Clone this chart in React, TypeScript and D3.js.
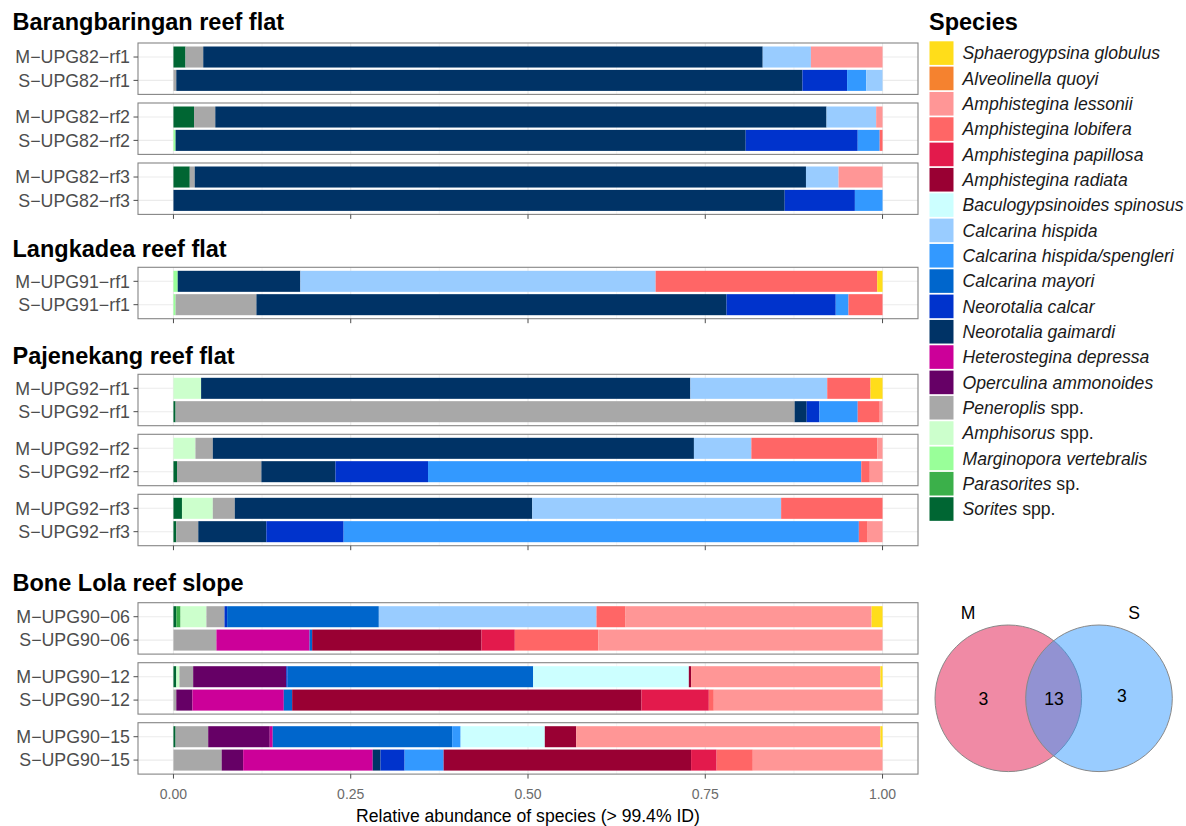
import * as d3 from "d3";

// species, in legend order (first one sits at the right end of each stack)
const speciesKeys = [
  "sph", "alv", "ales", "alob", "apap", "arad", "bac", "chis", "chsp", "cmay",
  "ncal", "ngai", "hdep", "oamm", "pen", "amph", "mver", "para", "sor",
];
// [italic part, upright part]
const speciesLabels: [string, string][] = [
  ["Sphaerogypsina globulus", ""],
  ["Alveolinella quoyi", ""],
  ["Amphistegina lessonii", ""],
  ["Amphistegina lobifera", ""],
  ["Amphistegina papillosa", ""],
  ["Amphistegina radiata", ""],
  ["Baculogypsinoides spinosus", ""],
  ["Calcarina hispida", ""],
  ["Calcarina hispida/spengleri", ""],
  ["Calcarina mayori", ""],
  ["Neorotalia calcar", ""],
  ["Neorotalia gaimardi", ""],
  ["Heterostegina depressa", ""],
  ["Operculina ammonoides", ""],
  ["Peneroplis", " spp."],
  ["Amphisorus", " spp."],
  ["Marginopora vertebralis", ""],
  ["Parasorites", " sp."],
  ["Sorites", " spp."],
];
const speciesColors = [
  "#FFDD1A", "#F5822F", "#FF9696", "#FF6666", "#E31A4C", "#990033", "#CCFFFF",
  "#99CCFF", "#3399FF", "#0066CC", "#0033CC", "#003366", "#CC0099", "#660066",
  "#A8A8A8", "#CCFFCC", "#99FF99", "#3BB04A", "#006633",
];

// relative abundances per sample
const M_UPG82_rf1: [string, number][] = [["sor", 0.017], ["pen", 0.025], ["ngai", 0.789], ["chis", 0.068], ["ales", 0.101]];
const S_UPG82_rf1: [string, number][] = [["pen", 0.004], ["ngai", 0.883], ["ncal", 0.063], ["chsp", 0.027], ["chis", 0.023]];
const M_UPG82_rf2: [string, number][] = [["sor", 0.029], ["pen", 0.03], ["ngai", 0.862], ["chis", 0.07], ["ales", 0.009]];
const S_UPG82_rf2: [string, number][] = [["mver", 0.003], ["ngai", 0.804], ["ncal", 0.158], ["chsp", 0.031], ["alob", 0.004]];
const M_UPG82_rf3: [string, number][] = [["sor", 0.023], ["pen", 0.007], ["ngai", 0.862], ["chis", 0.046], ["ales", 0.062]];
const S_UPG82_rf3: [string, number][] = [["ngai", 0.862], ["ncal", 0.099], ["chsp", 0.039]];
const M_UPG91_rf1: [string, number][] = [["mver", 0.006], ["ngai", 0.173], ["chis", 0.501], ["alob", 0.3125], ["sph", 0.0075]];
const S_UPG91_rf1: [string, number][] = [["mver", 0.003], ["pen", 0.114], ["ngai", 0.663], ["ncal", 0.154], ["chsp", 0.018], ["alob", 0.048]];
const M_UPG92_rf1: [string, number][] = [["amph", 0.039], ["ngai", 0.69], ["chis", 0.193], ["alob", 0.061], ["sph", 0.017]];
const S_UPG92_rf1: [string, number][] = [["sor", 0.003], ["pen", 0.873], ["ngai", 0.017], ["ncal", 0.018], ["chsp", 0.054], ["alob", 0.031], ["ales", 0.004]];
const M_UPG92_rf2: [string, number][] = [["amph", 0.031], ["pen", 0.0245], ["ngai", 0.6785], ["chis", 0.081], ["alob", 0.1775], ["ales", 0.0075]];
const S_UPG92_rf2: [string, number][] = [["sor", 0.005], ["pen", 0.119], ["ngai", 0.1045], ["ncal", 0.1305], ["chsp", 0.611], ["alob", 0.012], ["ales", 0.018]];
const M_UPG92_rf3: [string, number][] = [["sor", 0.012], ["amph", 0.0435], ["pen", 0.031], ["ngai", 0.4195], ["chis", 0.351], ["alob", 0.143]];
const S_UPG92_rf3: [string, number][] = [["sor", 0.004], ["pen", 0.031], ["ngai", 0.096], ["ncal", 0.109], ["chsp", 0.7266], ["alob", 0.0124], ["ales", 0.021]];
const M_UPG90_06: [string, number][] = [["sor", 0.004], ["para", 0.006], ["amph", 0.0365], ["pen", 0.0255], ["ncal", 0.0037], ["cmay", 0.214], ["chis", 0.307], ["alob", 0.041], ["ales", 0.347], ["sph", 0.0155]];
const S_UPG90_06: [string, number][] = [["pen", 0.0606], ["hdep", 0.1314], ["cmay", 0.0036], ["arad", 0.2388], ["apap", 0.047], ["alob", 0.1176], ["ales", 0.401]];
const M_UPG90_12: [string, number][] = [["sor", 0.004], ["amph", 0.0045], ["pen", 0.0193], ["oamm", 0.1312], ["ncal", 0.002], ["cmay", 0.3463], ["bac", 0.2195], ["arad", 0.0032], ["ales", 0.267], ["sph", 0.003]];
const S_UPG90_12: [string, number][] = [["pen", 0.004], ["oamm", 0.0228], ["hdep", 0.1288], ["cmay", 0.0118], ["arad", 0.4926], ["apap", 0.095], ["alob", 0.007], ["ales", 0.238]];
const M_UPG90_15: [string, number][] = [["sor", 0.003], ["pen", 0.046], ["oamm", 0.0868], ["hdep", 0.0042], ["cmay", 0.253], ["chsp", 0.012], ["bac", 0.1187], ["arad", 0.0443], ["ales", 0.429], ["sph", 0.003]];
const S_UPG90_15: [string, number][] = [["pen", 0.068], ["oamm", 0.0303], ["hdep", 0.1827], ["ngai", 0.011], ["ncal", 0.034], ["chsp", 0.055], ["arad", 0.349], ["apap", 0.036], ["alob", 0.051], ["ales", 0.183]];

const samples: Record<string, [string, number][]> = {
  "M-UPG82-rf1": M_UPG82_rf1, "S-UPG82-rf1": S_UPG82_rf1,
  "M-UPG82-rf2": M_UPG82_rf2, "S-UPG82-rf2": S_UPG82_rf2,
  "M-UPG82-rf3": M_UPG82_rf3, "S-UPG82-rf3": S_UPG82_rf3,
  "M-UPG91-rf1": M_UPG91_rf1, "S-UPG91-rf1": S_UPG91_rf1,
  "M-UPG92-rf1": M_UPG92_rf1, "S-UPG92-rf1": S_UPG92_rf1,
  "M-UPG92-rf2": M_UPG92_rf2, "S-UPG92-rf2": S_UPG92_rf2,
  "M-UPG92-rf3": M_UPG92_rf3, "S-UPG92-rf3": S_UPG92_rf3,
  "M-UPG90-06": M_UPG90_06, "S-UPG90-06": S_UPG90_06,
  "M-UPG90-12": M_UPG90_12, "S-UPG90-12": S_UPG90_12,
  "M-UPG90-15": M_UPG90_15, "S-UPG90-15": S_UPG90_15,
};

const siteTitles = ["Barangbaringan reef flat", "Langkadea reef flat", "Pajenekang reef flat", "Bone Lola reef slope"];
const sitePanels = [
  [["M-UPG82-rf1", "S-UPG82-rf1"], ["M-UPG82-rf2", "S-UPG82-rf2"], ["M-UPG82-rf3", "S-UPG82-rf3"]],
  [["M-UPG91-rf1", "S-UPG91-rf1"]],
  [["M-UPG92-rf1", "S-UPG92-rf1"], ["M-UPG92-rf2", "S-UPG92-rf2"], ["M-UPG92-rf3", "S-UPG92-rf3"]],
  [["M-UPG90-06", "S-UPG90-06"], ["M-UPG90-12", "S-UPG90-12"], ["M-UPG90-15", "S-UPG90-15"]],
];
const xTicks = [0, 0.25, 0.5, 0.75, 1];
const xMinor = [0.125, 0.375, 0.625, 0.875];

const vennLabels = ["M", "S"];
const vennCounts = [3, 13, 3]; // M only, both, S only

// layout
const W = 1186;
const H = 826;
const FONT = "'Liberation Sans', Arial, Helvetica, sans-serif";
const panelLeft = 138;
const panelRight = 918;
const panelH = 51.4;
const panelStep = 60;
const siteTops = [43, 267.3, 374.3, 602.7];
const titleBaselines = [29.5, 256.5, 364, 591];

export default function App() {
  const rows = Object.entries(samples).map(([name, vals]) => {
    const r: Record<string, any> = { name };
    speciesKeys.forEach((k) => (r[k] = 0));
    vals.forEach(([k, v]) => (r[k] += v));
    return r;
  });
  const series = d3
    .stack<Record<string, any>>()
    .keys([...speciesKeys].reverse())
    .offset(d3.stackOffsetExpand)(rows);

  const segs: Record<string, { key: string; x0: number; x1: number }[]> = {};
  series.forEach((s) =>
    s.forEach((d) => {
      if (d[1] - d[0] <= 0) return;
      (segs[d.data.name] ||= []).push({ key: s.key, x0: d[0], x1: d[1] });
    })
  );

  const x = d3.scaleLinear().domain([-0.05, 1.05]).range([panelLeft, panelRight]);
  const color = d3.scaleOrdinal<string, string>().domain(speciesKeys).range(speciesColors);
  const fmt = d3.format(".2f");

  return (
    <svg
      width={W}
      height={H}
      style={{ position: "absolute", left: 0, top: 0, fontFamily: FONT }}
    >
      <rect width={W} height={H} fill="#fff" />
      {siteTitles.map((title, gi) => {
        const panels = sitePanels[gi];
        const lastBottom = siteTops[gi] + (panels.length - 1) * panelStep + panelH;
        return (
          <g key={title}>
            <text x={12.5} y={titleBaselines[gi]} fontSize={23.5} fontWeight="bold" fill="#000">
              {title}
            </text>
            {panels.map((pair, pi) => {
              const top = siteTops[gi] + pi * panelStep;
              const y = d3
                .scaleBand()
                .domain(pair)
                .range([top, top + panelH])
                .paddingInner(0.1)
                .paddingOuter(0.15);
              return (
                <g key={pi}>
                  {xMinor.map((t) => (
                    <line key={"m" + t} x1={x(t)} x2={x(t)} y1={top} y2={top + panelH} stroke="#F0F0F0" strokeWidth={0.7} />
                  ))}
                  {xTicks.map((t) => (
                    <line key={"M" + t} x1={x(t)} x2={x(t)} y1={top} y2={top + panelH} stroke="#EBEBEB" strokeWidth={1.1} />
                  ))}
                  {pair.map((s) => (
                    <line
                      key={"h" + s}
                      x1={panelLeft}
                      x2={panelRight}
                      y1={y(s)! + y.bandwidth() / 2}
                      y2={y(s)! + y.bandwidth() / 2}
                      stroke="#EBEBEB"
                      strokeWidth={1.1}
                    />
                  ))}
                  {pair.map((s) =>
                    segs[s].map((d) => (
                      <rect
                        key={s + d.key}
                        x={x(d.x0)}
                        width={x(d.x1) - x(d.x0)}
                        y={y(s)}
                        height={y.bandwidth()}
                        fill={color(d.key)}
                      />
                    ))
                  )}
                  <rect x={panelLeft} y={top} width={panelRight - panelLeft} height={panelH} fill="none" stroke="#858585" strokeWidth={1.1} />
                  {pair.map((s) => (
                    <g key={"t" + s} transform={`translate(0,${y(s)! + y.bandwidth() / 2})`}>
                      <line x1={panelLeft - 4.5} x2={panelLeft} stroke="#4D4D4D" strokeWidth={1} />
                      <text x={panelLeft - 8} dy="0.35em" textAnchor="end" fontSize={17.8} fill="#4D4D4D">
                        {s.replace(/-/g, "\u2212")}
                      </text>
                    </g>
                  ))}
                </g>
              );
            })}
            {xTicks.map((t) => (
              <line key={"xt" + t} x1={x(t)} x2={x(t)} y1={lastBottom} y2={lastBottom + 4.5} stroke="#4D4D4D" strokeWidth={1} />
            ))}
            {gi === siteTitles.length - 1 &&
              xTicks.map((t) => (
                <text key={"xl" + t} x={x(t)} y={lastBottom + 25} textAnchor="middle" fontSize={14} fill="#6B6B6B">
                  {fmt(t)}
                </text>
              ))}
          </g>
        );
      })}
      <text x={(panelLeft + panelRight) / 2} y={822} textAnchor="middle" fontSize={17.6} fill="#000">
        Relative abundance of species (&gt; 99.4% ID)
      </text>

      {/* legend */}
      <text x={929} y={30} fontSize={23.5} fontWeight="bold" fill="#000">
        Species
      </text>
      {speciesLabels.map(([it, up], i) => {
        const ky = 41.3 + i * 25.33;
        return (
          <g key={it}>
            <rect x={929.5} y={ky} width={24} height={23.6} fill={speciesColors[i]} />
            <text x={962.5} y={ky + 11.8} dy="0.35em" fontSize={17.6} fill="#1A1A1A">
              <tspan fontStyle="italic">{it}</tspan>
              {up && <tspan>{up}</tspan>}
            </text>
          </g>
        );
      })}

      {/* venn */}
      <circle cx={1008.3} cy={698.3} r={73.3} fill="#E1154B" fillOpacity={0.5} stroke="#888" strokeWidth={1} />
      <circle cx={1099} cy={698.3} r={73.3} fill="#3399FF" fillOpacity={0.5} stroke="#888" strokeWidth={1} />
      <text x={968} y={613} dy="0.35em" textAnchor="middle" fontSize={17.6}>{vennLabels[0]}</text>
      <text x={1134} y={613} dy="0.35em" textAnchor="middle" fontSize={17.6}>{vennLabels[1]}</text>
      <text x={983.5} y={699} dy="0.35em" textAnchor="middle" fontSize={17.6}>{vennCounts[0]}</text>
      <text x={1054} y={699} dy="0.35em" textAnchor="middle" fontSize={17.6}>{vennCounts[1]}</text>
      <text x={1122} y={696} dy="0.35em" textAnchor="middle" fontSize={17.6}>{vennCounts[2]}</text>
    </svg>
  );
}
